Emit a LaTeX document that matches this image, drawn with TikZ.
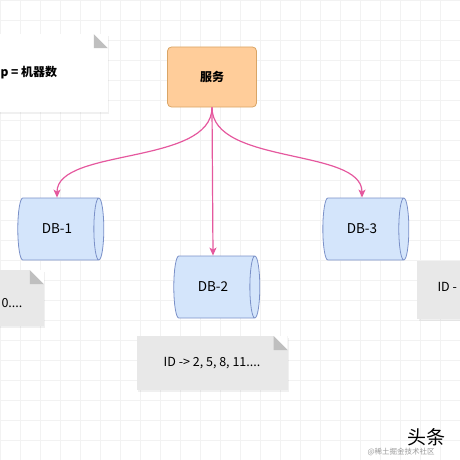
\documentclass[tikz,border=0pt]{standalone}
\usepackage{fontspec}
\setmainfont{Noto Sans CJK SC}
\usepackage{tikz}
\usetikzlibrary{shapes.geometric, arrows.meta, shadows}
\definecolor{svcorange}{HTML}{FFCD9A}
\definecolor{svcborder}{HTML}{D9A566}
\definecolor{dbblue}{HTML}{D4E5FB}
\definecolor{dbborder}{HTML}{7A90C8}
\definecolor{linkpink}{HTML}{E5589E}
\definecolor{notegray}{HTML}{E8E8E8}

\begin{document}
\begin{tikzpicture}[x=1pt, y=-1pt,
  svc/.style={rectangle, rounded corners=4pt, fill=svcorange, draw=svcborder,
    line width=0.8pt, minimum width=89pt, minimum height=60pt,
    font=\fontsize{12}{14}\selectfont\bfseries},
  db/.style={cylinder, shape aspect=0.6, fill=dbblue, draw=dbborder,
    line width=0.8pt, minimum height=86pt, minimum width=62pt,
    font=\fontsize{13.5}{15}\selectfont},
  note/.style={rectangle, fill=#1, minimum width=151pt, minimum height=54pt,
    inner sep=0pt, font=\fontsize{12.5}{15}\selectfont,
    drop shadow={opacity=0.12, shadow xshift=1.5pt, shadow yshift=-1.5pt},
    path picture={
      \fill[white] ([xshift=-14pt]path picture bounding box.north east)
        -- (path picture bounding box.north east)
        -- ([yshift=-14pt]path picture bounding box.north east) -- cycle;
      \fill[black!25] ([xshift=-14pt]path picture bounding box.north east)
        -- ([yshift=-14pt]path picture bounding box.north east)
        -- ([xshift=-14pt,yshift=-14pt]path picture bounding box.north east) -- cycle;}},
  note/.default=notegray,
  gridline/.style={black!5, line width=0.5pt},
  link/.style={draw=linkpink, line width=1.2pt,
    -{Stealth[length=8pt, width=7pt, inset=2pt]}}
]
  \useasboundingbox (0,0) rectangle (460,460);
  \clip (0,0) rectangle (460,460);
  \foreach \g in {0,20,...,460} {
    \draw[gridline] (\g,0) -- (\g,460);
    \draw[gridline] (0,\g) -- (460,\g);
  }

  % notes
  \node[note=white, minimum height=78pt, anchor=north east] (n0) at (108,34) {};
  \node[font=\fontsize{12}{14}\selectfont\bfseries, anchor=west] (t0) at (-3,73) {p = 机器数};
  \node[note, minimum height=56pt, anchor=north east] (n1) at (44,270) {};
  \node[font=\fontsize{12.5}{15}\selectfont, anchor=west] (t1) at (-2,303) {0....};
  \node[note] (n2) at (212,363) {ID -> 2, 5, 8, 11....};
  \node[note, minimum height=58pt, anchor=north west] (n3) at (417,261) {};
  \node[font=\fontsize{12.5}{15}\selectfont, anchor=west] (t3) at (434,287) {ID -};

  % service
  \node[svc] (svc) at (212,77) {服务};

  % databases
  \node[db] (db1) at (57,229) {DB-1};
  \node[db] (db2) at (213,287) {DB-2};
  \node[db] (db3) at (362,229) {DB-3};

  % links
  \draw[link] (svc.south) .. controls +(0,58) and +(0,-50) .. (db1.north);
  \draw[link] (svc.south) -- (db2.north);
  \draw[link] (svc.south) .. controls +(0,58) and +(0,-50) .. (db3.north);

  % watermark
  \node[font=\fontsize{19}{21}\selectfont, anchor=west] (wm) at (404,437) {头条};
  \node[font=\fontsize{7.5}{9}\selectfont, text=black!40, anchor=west] (wm2) at (364,452) {@稀土掘金技术社区};
\end{tikzpicture}
\end{document}
